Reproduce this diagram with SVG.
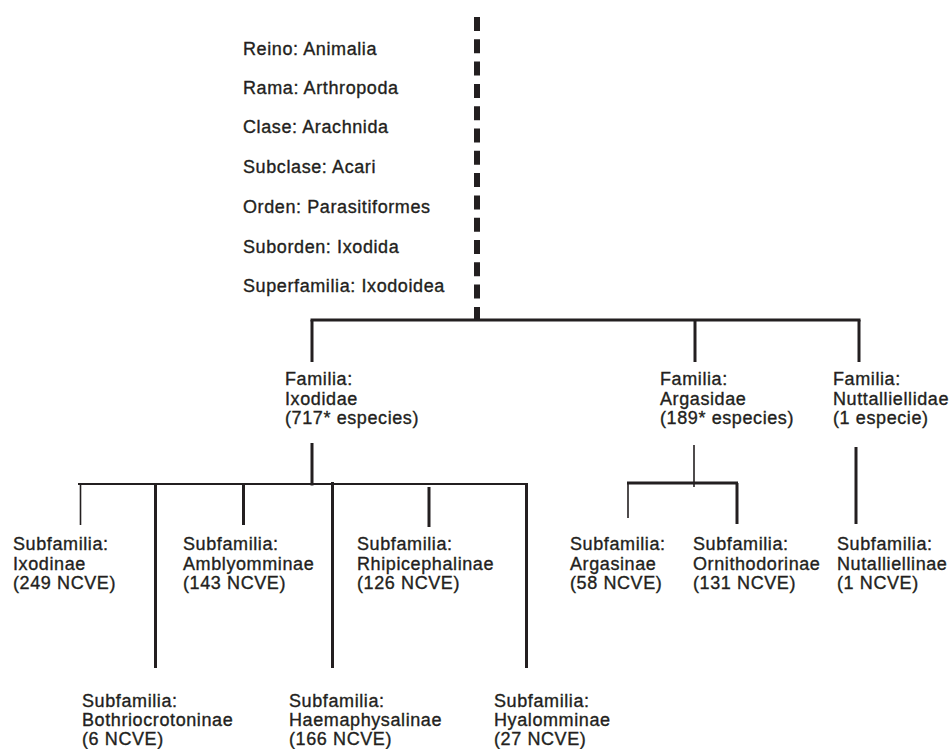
<svg xmlns="http://www.w3.org/2000/svg" width="951" height="749" viewBox="0 0 951 749">
<style>
text{font-family:"Liberation Sans",Arial,sans-serif;font-size:18px;letter-spacing:0.6px;fill:#231f20;stroke:#231f20;stroke-width:0.35px}
.c line{stroke:#231f20;fill:none}
.t{stroke-width:3}
.n{stroke-width:1.6}
.m{stroke-width:2}
</style>
<rect width="951" height="749" fill="#fff"/>
<g class="c" id="connectors">
<line x1="477" y1="17" x2="477" y2="320" stroke-width="6" stroke-dasharray="14 8.3"/>
<line class="t" x1="310.5" y1="320" x2="860.5" y2="320"/>
<line class="t" x1="312" y1="320" x2="312" y2="362"/>
<line class="t" x1="695" y1="320" x2="695" y2="362"/>
<line class="t" x1="859" y1="320" x2="859" y2="362"/>
<line class="t" x1="312" y1="443" x2="312" y2="485.5"/>
<line class="m" x1="78" y1="484" x2="527.5" y2="484"/>
<line class="n" x1="80.5" y1="484" x2="80.5" y2="525"/>
<line class="t" x1="155.5" y1="484" x2="155.5" y2="668"/>
<line class="t" x1="243.5" y1="484" x2="243.5" y2="525"/>
<line class="t" x1="332.5" y1="482" x2="332.5" y2="668"/>
<line class="t" x1="429" y1="487" x2="429" y2="527"/>
<line class="t" x1="526.5" y1="483" x2="526.5" y2="668"/>
<line class="n" x1="694" y1="445" x2="694" y2="487"/>
<line class="t" x1="627" y1="483" x2="738" y2="483"/>
<line class="n" x1="628" y1="483" x2="628" y2="518"/>
<line class="t" x1="737" y1="483" x2="737" y2="524"/>
<line class="t" x1="856" y1="447" x2="856" y2="524"/>
</g>
<g id="taxonomia">
<text x="243" y="55">Reino: Animalia</text>
<text x="243" y="94.3">Rama: Arthropoda</text>
<text x="243" y="133">Clase: Arachnida</text>
<text x="243" y="173">Subclase: Acari</text>
<text x="243" y="213">Orden: Parasitiformes</text>
<text x="243" y="252.5">Suborden: Ixodida</text>
<text x="243" y="292">Superfamilia: Ixodoidea</text>
</g>
<g id="ixodidae"><text x="285" y="385">Familia:</text><text x="285" y="404.5">Ixodidae</text><text x="285" y="424">(717* especies)</text></g>
<g id="argasidae"><text x="660" y="385">Familia:</text><text x="660" y="404.5">Argasidae</text><text x="660" y="424">(189* especies)</text></g>
<g id="nuttalliellidae"><text x="833" y="385">Familia:</text><text x="833" y="404.5">Nuttalliellidae</text><text x="833" y="424">(1 especie)</text></g>
<g id="ixodinae"><text x="13" y="550">Subfamilia:</text><text x="13" y="569.5">Ixodinae</text><text x="13" y="589">(249 NCVE)</text></g>
<g id="amblyomminae"><text x="183" y="550">Subfamilia:</text><text x="183" y="569.5">Amblyomminae</text><text x="183" y="589">(143 NCVE)</text></g>
<g id="rhipicephalinae"><text x="357" y="550">Subfamilia:</text><text x="357" y="569.5">Rhipicephalinae</text><text x="357" y="589">(126 NCVE)</text></g>
<g id="argasinae"><text x="570" y="550">Subfamilia:</text><text x="570" y="569.5">Argasinae</text><text x="570" y="589">(58 NCVE)</text></g>
<g id="ornithodorinae"><text x="693" y="550">Subfamilia:</text><text x="693" y="569.5">Ornithodorinae</text><text x="693" y="589">(131 NCVE)</text></g>
<g id="nutalliellinae"><text x="837" y="550">Subfamilia:</text><text x="837" y="569.5">Nutalliellinae</text><text x="837" y="589">(1 NCVE)</text></g>
<g id="bothriocrotoninae"><text x="82" y="707">Subfamilia:</text><text x="82" y="726">Bothriocrotoninae</text><text x="82" y="745">(6 NCVE)</text></g>
<g id="haemaphysalinae"><text x="289" y="707">Subfamilia:</text><text x="289" y="726">Haemaphysalinae</text><text x="289" y="745">(166 NCVE)</text></g>
<g id="hyalomminae"><text x="494" y="707">Subfamilia:</text><text x="494" y="726">Hyalomminae</text><text x="494" y="745">(27 NCVE)</text></g>
</svg>
